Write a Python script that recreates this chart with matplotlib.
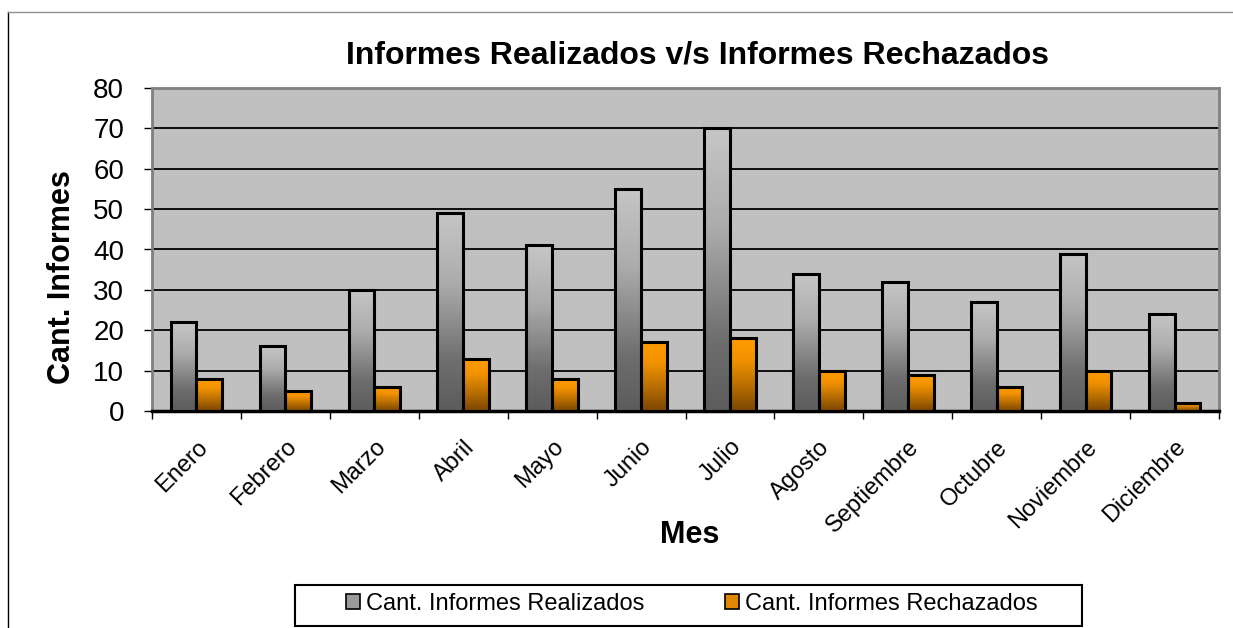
import numpy as np
import matplotlib
matplotlib.use("Agg")
import matplotlib.pyplot as plt
from matplotlib.colors import LinearSegmentedColormap
from matplotlib.patches import Patch, Rectangle
from matplotlib.lines import Line2D

plt.rcParams['font.family'] = ['Liberation Sans', 'DejaVu Sans']

# data
meses = ["Enero", "Febrero", "Marzo", "Abril", "Mayo", "Junio", "Julio",
         "Agosto", "Septiembre", "Octubre", "Noviembre", "Diciembre"]
realizados = [22, 16, 30, 49, 41, 55, 70, 34, 32, 27, 39, 24]
rechazados = [8, 5, 6, 13, 8, 17, 18, 10, 9, 6, 10, 2]

# gradients (0 = bottom, 1 = top of bar)
cmap_gris = LinearSegmentedColormap.from_list(
    "gris", [(0, "#5c5c5c"), (0.25, "#6e6e6e"), (0.65, "#acacac"), (1, "#c6c6c6")])
cmap_naranja = LinearSegmentedColormap.from_list(
    "naranja", [(0, "#7a4600"), (0.35, "#b86e00"), (0.7, "#f29200"), (1, "#ff9c00")])


def gradient_bars(ax, xs, heights, width, cmap):
    grad = np.linspace(0, 1, 256).reshape(-1, 1)
    bars = ax.bar(xs, heights, width=width, facecolor="none",
                  edgecolor="black", linewidth=2.2, zorder=4)
    for b in bars:
        x0, y0 = b.get_x(), b.get_y()
        ax.imshow(grad, cmap=cmap, origin="lower", aspect="auto",
                  extent=[x0, x0 + b.get_width(), y0, y0 + b.get_height()],
                  zorder=3, interpolation="bilinear")
    return bars


fig = plt.figure(figsize=(12.33, 6.28), dpi=100)
ax = fig.add_axes([152 / 1233, 1 - 411 / 628, (1219 - 152) / 1233, (411 - 88) / 628])
ax.set_facecolor("#c0c0c0")

x = np.arange(len(meses))
w = 0.29
gradient_bars(ax, x - w / 2, realizados, w, cmap_gris)
gradient_bars(ax, x + w / 2, rechazados, w, cmap_naranja)

ax.set_xlim(-0.5, len(meses) - 0.5)
ax.set_ylim(0, 80)
ax.set_yticks(range(0, 81, 10))
ax.tick_params(axis="y", labelsize=20, length=6, width=1, direction="out", pad=14)
ax.yaxis.grid(True, color="black", linewidth=1.3)
ax.set_axisbelow(True)

ax.set_xticks(x)
ax.set_xticklabels(meses, rotation=45, ha="right", rotation_mode="anchor", fontsize=17)
ax.tick_params(axis="x", length=0, pad=18)
ax.set_xticks(np.arange(-0.5, len(meses), 1), minor=True)
ax.tick_params(axis="x", which="minor", length=6, width=1, direction="out")

for s in ["left", "top", "right"]:
    ax.spines[s].set_color("#808080")
    ax.spines[s].set_linewidth(2)
ax.spines["bottom"].set_color("black")
ax.spines["bottom"].set_linewidth(2.5)

fig.text(697 / 1233, 1 - 55 / 628, "Informes Realizados v/s Informes Rechazados",
         ha="center", va="center", fontsize=23, fontweight="bold")
fig.text(62 / 1233, 1 - 277 / 628, "Cant. Informes", rotation=90,
         ha="center", va="center", fontsize=22, fontweight="bold")
fig.text(690 / 1233, 1 - 535 / 628, "Mes", ha="center", va="center",
         fontsize=22, fontweight="bold")

# legend: box drawn separately so it can be wider than its contents
fig.add_artist(Rectangle((295 / 1233, 1 - 626 / 628), (1082 - 295) / 1233, 41 / 628,
                         transform=fig.transFigure, facecolor="white",
                         edgecolor="black", linewidth=1.5))
handles = [Patch(facecolor="#9a9a9a", edgecolor="black", linewidth=1.2),
           Patch(facecolor="#e08800", edgecolor="black", linewidth=1.2)]
leg = fig.legend(handles, ["Cant. Informes Realizados", "Cant. Informes Rechazados"],
                 loc="center", bbox_to_anchor=(692 / 1233, 1 - 604 / 628), ncol=2,
                 fontsize=17, frameon=False,
                 handlelength=0.6, handleheight=0.6, handletextpad=0.25,
                 columnspacing=3.4, borderpad=0, borderaxespad=0)

# outer chart border (left and top visible)
fig.add_artist(Line2D([8 / 1233, 8 / 1233], [0, 1 - 12 / 628], color="black", linewidth=1))
fig.add_artist(Line2D([8 / 1233, 1], [1 - 12 / 628, 1 - 12 / 628], color="#909090", linewidth=1))

fig.savefig("out.png", dpi=100)
